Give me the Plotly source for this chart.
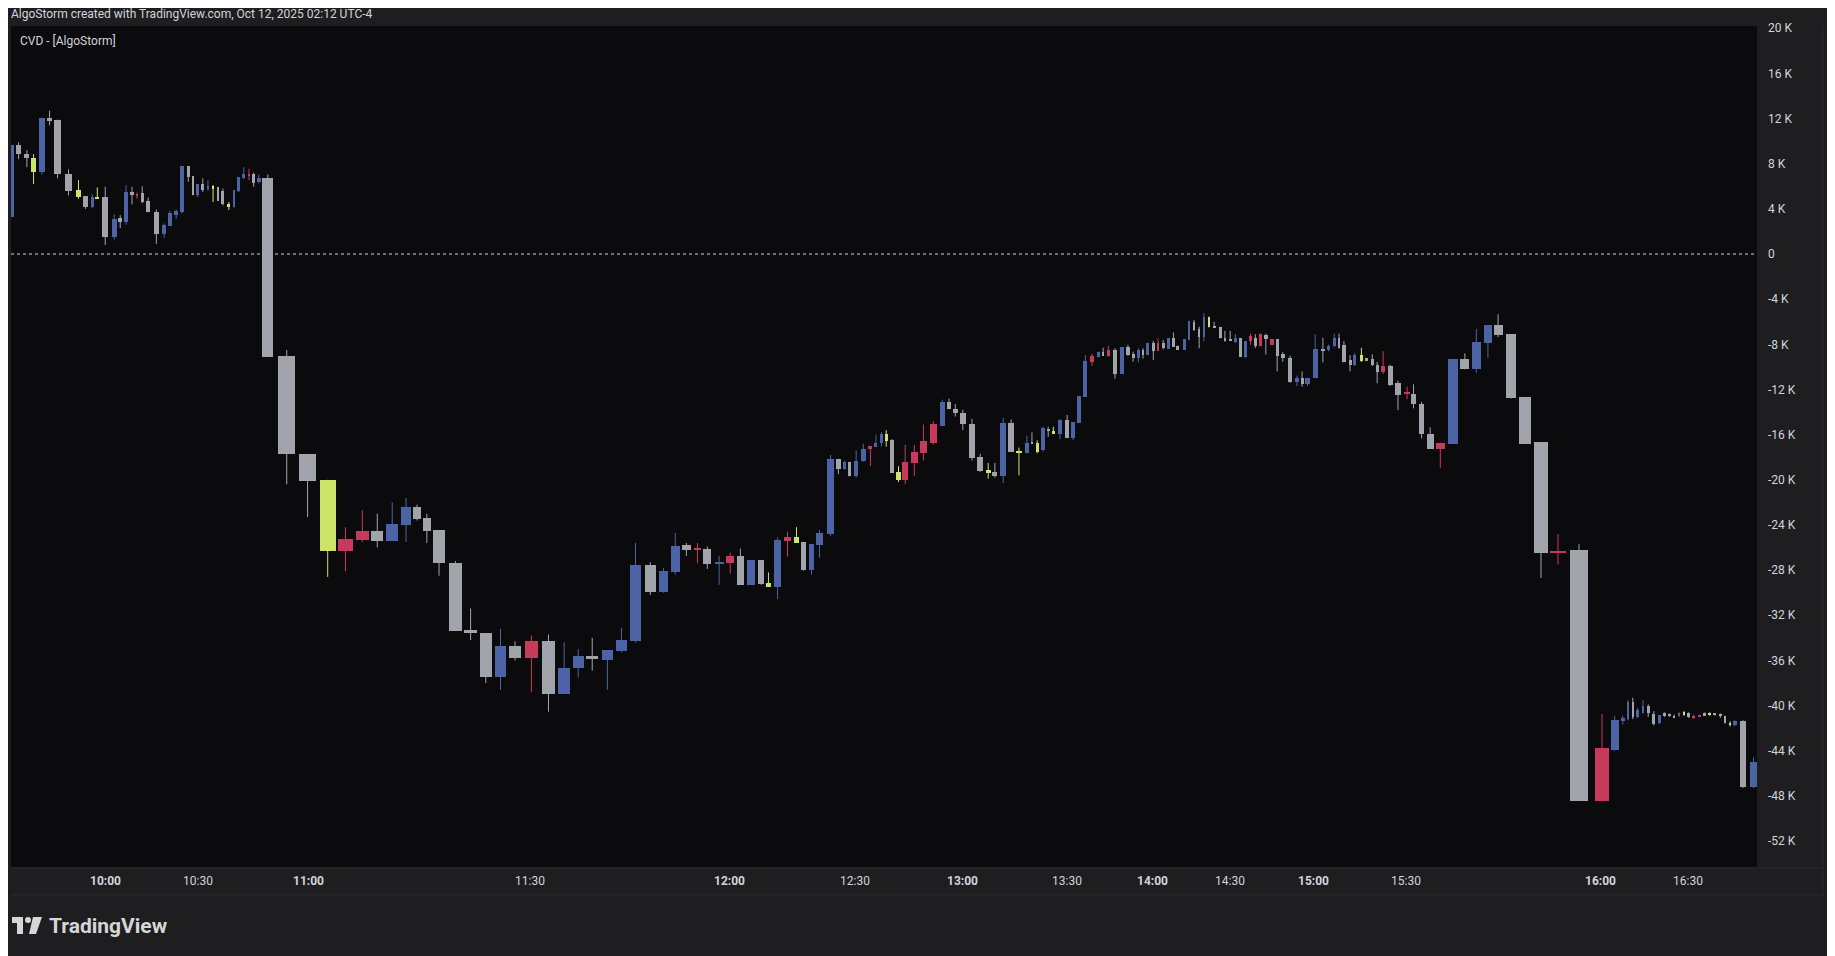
import plotly.graph_objects as go

# Cumulative-volume position of each bar (chart is volume-spaced), and CVD OHLC in thousands
pos = [9.4,15.5,22.6,28.3,35.4,42,48.8,58.2,66.7,72.7,78.5,82.8,89.6,97.3,102.4,107.4,112.5,116.8,121.2,126.3,
       133.3,140,144.8,150.2,155.2,160.6,164.6,168.7,173,177.4,181.8,185.9,190.2,195.3,199.7,203.7,208,212.5,216.5,220.9,
       228.6,244.8,262.6,279.8,295,309.4,322.2,335,346.8,356.2,364.6,375,389,402,415,427.6,440,454,468.6,482,
       494,506,519,531,543,555.7,566.9,577,586.5,596,604.4,614.5,624,632.7,641.8,650.6,656.7,664.5,673,680.7,
       686.5,693.5,700.3,709.8,716.5,721.9,726,731.7,737.8,743.9,748.6,753.3,757.4,762.5,767.9,773.6,781.4,789.2,797.6,805.4,
       811.1,816.5,822.9,830.7,837.8,844.6,850.3,857.4,864.2,870.9,877.7,882,886.5,891.5,895.9,900.3,906,912.1,917.2,922.3,
       927.7,933.4,938.8,942.9,947.3,953,959.1,964.1,968.5,973,977,981,985.8,989.8,994.2,998.6,1003,1006.7,1012.1,1016.2,
       1020.6,1025,1029,1033.4,1037.8,1042.9,1047,1051.5,1056,1060.2,1064.4,1068.9,1073,1077.2,1082,1087.2,1091.7,1096.5,1102.8,1108.6,
       1113,1117.6,1124.2,1130.8,1135.6,1140.5,1144.6,1148.8,1154,1158.1,1163.7,1168.2,1173,1177.2,1182.3,1188.2,1195,1202.8,1208.3,1215.2,
       1222.5,1231.2,1242.2,1252.2,1262,1271.9,1280.6,1291.7,1303.5,1317.3,1331.8,1349.8,1369.5,1380.3,1387.2,1391.7,1395.8,1400,1404.5,1409,
       1413.8,1418.3,1422.8,1427,1431.2,1435.3,1439.5,1443.6,1448,1452.6,1457.4,1461.6,1466,1470.6,1474.7,1479,1483,1490,1499]
top = [9.65,9.65,8.9,8.55,12.07,12.07,11.87,7.1,5.67,5.1,5.08,5.05,5.05,3.1,3.16,5.5,5.5,5.3,5.37,4.7,
       3.7,2.57,3.66,3.8,7.8,7.8,6.9,6.2,6.2,6.0,6.0,5.9,5.6,4.45,5.7,6.8,7.05,7.05,7.08,6.75,
       6.7,-9.05,-17.7,-20.0,-25.25,-24.5,-24.5,-23.9,-22.4,-22.4,-23.4,-24.45,-27.37,-33.3,-33.6,-34.7,-34.7,-34.3,-34.3,-36.67,
       -35.6,-35.6,-35.1,-34.2,-27.55,-27.55,-28.1,-25.86,-25.8,-26.1,-26.1,-27.3,-26.75,-26.75,-27.1,-27.1,-29.1,-25.3,-25.1,-25.1,
       -25.5,-25.7,-24.7,-18.15,-18.15,-18.4,-18.4,-18.3,-17.27,-17.0,-16.7,-15.9,-15.94,-16.5,-19.3,-18.4,-17.5,-16.56,-15.1,-13.08,
       -13.1,-13.7,-14.1,-15.05,-17.95,-19.1,-19.3,-15.0,-15.0,-17.45,-16.7,-16.65,-16.7,-15.4,-15.5,-15.65,-14.7,-14.7,-14.9,-12.57,
       -9.47,-9.03,-8.7,-8.65,-8.5,-8.5,-8.26,-8.26,-8.85,-8.5,-8.5,-7.85,-7.85,-7.85,-7.85,-7.47,-7.47,-8.15,-7.55,-5.93,
       -6.0,-6.6,-5.55,-5.55,-6.37,-6.44,-7.48,-7.57,-7.42,-7.48,-7.72,-7.27,-7.42,-7.1,-7.17,-7.57,-7.57,-8.88,-9.25,-11.02,
       -11.02,-10.99,-8.4,-8.4,-8.18,-7.42,-7.42,-8.03,-9.4,-8.94,-8.94,-9.25,-9.31,-9.8,-9.92,-9.92,-11.45,-12.24,-12.36,-13.28,
       -15.9,-16.7,-9.34,-9.34,-7.8,-6.3,-6.3,-7.11,-12.67,-16.66,-26.28,-26.25,-43.8,-41.3,-41.1,-39.7,-39.7,-40.4,-40.0,-40.0,
       -40.74,-40.84,-40.7,-40.8,-40.9,-40.7,-40.6,-40.7,-40.9,-40.84,-40.7,-40.7,-40.74,-40.74,-40.96,-41.5,-41.4,-41.4,-45.0]
bot = [3.3,8.85,8.5,7.3,7.3,11.8,7.08,5.6,5.08,4.2,4.2,4.99,1.53,1.5,2.8,2.85,5.25,5.2,4.6,3.7,
       1.77,1.77,2.5,3.5,3.7,6.85,5.25,5.2,5.67,5.8,5.8,4.7,4.4,4.16,4.2,5.6,6.75,7.0,6.3,6.35,
       -9.1,-17.7,-20.1,-26.3,-26.3,-25.3,-25.4,-25.4,-24.0,-23.5,-24.5,-27.4,-33.36,-33.6,-37.44,-37.44,-35.8,-35.8,-38.95,-38.97,
       -36.7,-35.9,-36.0,-35.2,-34.3,-29.9,-29.9,-28.2,-26.2,-26.15,-27.5,-27.5,-27.35,-29.3,-29.3,-29.2,-29.5,-29.5,-25.4,-25.57,
       -28.0,-28.0,-25.8,-24.8,-19.04,-19.0,-19.7,-19.7,-18.3,-17.3,-17.06,-16.7,-16.6,-19.4,-20.0,-20.0,-18.5,-17.6,-16.7,-15.2,
       -13.7,-14.1,-15.1,-18.04,-19.2,-19.4,-19.7,-19.7,-17.5,-17.6,-17.6,-16.75,-17.56,-17.4,-15.7,-15.9,-15.94,-16.3,-16.3,-14.94,
       -12.63,-9.53,-9.1,-9.03,-9.03,-10.6,-10.6,-8.94,-9.24,-9.18,-8.94,-8.94,-8.56,-8.56,-8.35,-8.38,-8.2,-8.5,-8.5,-7.6,
       -6.73,-7.38,-7.38,-6.43,-6.52,-7.48,-7.72,-7.66,-7.78,-9.1,-9.1,-7.72,-8.18,-8.18,-7.57,-8.03,-9.0,-9.25,-11.3,-11.33,
       -11.54,-11.54,-11.0,-8.5,-8.5,-8.18,-8.33,-9.55,-9.8,-9.8,-9.49,-9.4,-9.86,-10.41,-10.47,-11.57,-12.45,-12.36,-13.28,-15.96,
       -17.24,-17.24,-16.79,-10.16,-10.2,-7.9,-7.2,-12.76,-16.79,-26.5,-26.4,-48.46,-48.46,-43.9,-41.4,-41.2,-41.0,-41.0,-40.7,-40.7,
       -41.6,-41.54,-40.9,-40.9,-41.0,-40.9,-40.8,-41.05,-41.1,-40.9,-40.84,-40.8,-40.8,-40.96,-41.5,-41.76,-41.76,-47.24,-47.24]
hi = [9.65,9.9,9.2,8.85,12.07,12.7,11.9,7.5,6.55,5.1,5.3,5.9,5.96,3.5,3.45,6.1,5.96,5.45,6.0,5.0,
      3.95,2.7,3.8,3.95,7.8,7.8,6.9,6.2,6.7,6.55,6.1,5.96,5.8,4.6,5.7,6.8,7.7,7.55,7.2,7.05,
      7.05,-8.5,-17.7,-20.0,-24.2,-22.7,-23.0,-22.0,-21.6,-22.2,-23.0,-24.45,-27.2,-31.4,-33.6,-33.2,-34.3,-33.8,-33.7,-34.4,
      -35.0,-34.0,-35.1,-33.1,-25.6,-27.3,-27.8,-24.7,-25.6,-25.6,-25.9,-26.75,-26.45,-26.1,-27.1,-27.1,-28.2,-25.1,-24.6,-24.2,
      -25.5,-25.7,-24.45,-17.8,-18.15,-18.3,-18.4,-17.4,-16.8,-17.0,-16.0,-15.8,-15.6,-16.4,-18.8,-16.9,-16.9,-15.1,-14.8,-12.9,
      -12.8,-13.3,-13.8,-14.6,-17.7,-18.5,-18.5,-14.5,-14.65,-17.15,-16.1,-15.8,-16.5,-15.3,-15.3,-15.3,-14.65,-14.25,-14.9,-12.57,
      -8.97,-8.85,-8.65,-8.3,-8.15,-8.35,-8.26,-8.05,-8.65,-8.35,-8.35,-7.85,-7.7,-7.47,-7.6,-7.47,-6.94,-8.1,-7.55,-5.93,
      -5.84,-6.43,-5.25,-5.55,-6.0,-6.44,-6.8,-6.8,-7.1,-7.48,-7.72,-7.05,-7.1,-7.05,-7.05,-7.57,-7.57,-8.7,-9.0,-10.78,
      -10.4,-10.99,-7.1,-7.42,-8.03,-7.05,-7.05,-7.72,-8.94,-8.79,-8.3,-9.25,-8.88,-9.55,-8.6,-9.8,-11.23,-11.75,-11.54,-13.1,
      -15.35,-16.7,-9.34,-8.79,-6.65,-6.3,-5.34,-7.11,-12.67,-16.66,-24.8,-25.7,-40.74,-40.9,-40.9,-39.5,-39.3,-40.2,-39.5,-39.9,
      -40.5,-40.84,-40.6,-40.7,-40.8,-40.6,-40.5,-40.6,-40.8,-40.8,-40.6,-40.6,-40.7,-40.7,-40.9,-41.4,-41.3,-41.3,-44.6]
lo = [3.3,8.4,7.7,6.2,7.05,11.4,6.7,5.2,4.9,4.0,4.1,4.99,0.8,1.3,2.3,2.6,4.4,4.9,4.5,3.7,
      0.9,1.45,2.5,3.1,3.6,6.4,5.2,5.05,5.5,5.6,4.6,4.7,4.3,3.9,4.1,5.5,6.65,6.55,5.96,6.25,
      -9.1,-20.4,-23.3,-28.6,-28.1,-25.5,-26.0,-25.4,-25.5,-23.6,-25.6,-28.5,-33.36,-34.2,-38.0,-38.6,-36.0,-38.8,-40.54,-38.97,
      -37.5,-36.9,-38.6,-35.3,-34.4,-30.2,-30.0,-28.4,-26.75,-27.4,-27.9,-29.3,-28.3,-29.3,-29.3,-29.3,-29.5,-30.55,-26.8,-25.6,
      -28.05,-28.4,-26.9,-25.0,-19.5,-19.1,-19.7,-19.8,-18.4,-18.8,-17.06,-17.06,-17.06,-19.4,-20.2,-20.4,-19.66,-18.3,-16.9,-15.2,
      -13.75,-14.4,-15.6,-18.3,-19.3,-19.9,-19.8,-20.3,-17.5,-19.6,-17.65,-16.75,-17.65,-17.5,-16.2,-15.95,-16.4,-16.3,-16.5,-14.94,
      -12.63,-9.9,-9.15,-9.03,-9.1,-11.05,-10.6,-9.03,-9.53,-9.6,-9.27,-8.94,-9.4,-8.56,-8.45,-8.38,-8.2,-8.5,-8.5,-7.6,
      -6.8,-8.35,-7.76,-6.5,-6.52,-7.48,-7.78,-7.72,-7.87,-9.1,-9.2,-8.03,-8.33,-8.18,-8.9,-8.03,-10.4,-9.55,-11.4,-11.7,
      -11.75,-11.69,-11.0,-9.6,-8.6,-8.27,-8.39,-9.6,-10.4,-9.92,-9.55,-9.4,-9.92,-11.45,-10.62,-11.69,-13.83,-12.85,-13.67,-16.33,
      -17.24,-18.95,-16.79,-10.22,-10.53,-9.2,-7.36,-12.8,-16.79,-28.7,-27.5,-48.46,-48.46,-44.0,-41.7,-41.3,-41.2,-41.1,-40.7,-41.0,
      -41.76,-41.66,-41.0,-41.0,-41.1,-41.0,-40.9,-41.1,-41.2,-41.0,-40.9,-40.9,-40.9,-41.1,-41.6,-41.85,-41.85,-47.3,-47.3]
col = list("BGGLBGGGLGBLGBGBGRGG" "GBBBBGGBGBLGGLBBBRGB" "GGGLRRGBBGGGGGGBGRGB" "BGBBBGBBGRGBRGBGLBRL"
           "GBBBGBGBBRBBLGLRRRRB" "GGGGGLGBGLBGLBGLBGBB" "BRBGRGBGGBGBGRGBGGBB" "GGBLGGGGBGBRGRGRGGGB"
           "GBBGBBGGGBLGGGRGGRGG" "GRBGBBGGGGRGRBBBGBBG" "GBGGGBLGRRGLGGGLBGB")

color_map = {"B": "#4c64a6", "G": "#a2a4ab", "L": "#cde36a", "R": "#c73a5c"}

tick_lab = ["10:00", "10:30", "11:00", "11:30", "12:00", "12:30", "13:00", "13:30", "14:00", "14:30", "15:00", "15:30", "16:00", "16:30"]
tick_pos = [90, 169, 263, 453, 623, 731, 823, 912, 985, 1051, 1123, 1202, 1368, 1443]
bold_labels = {"10:00", "11:00", "12:00", "13:00", "14:00", "15:00", "16:00"}
y_ticks = list(range(-52, 21, 4))

OFF = 8  # page body offset
W, H = 1835 - OFF, 956 - OFF
L, R, T, B = 11, 1757, 26, 867  # page coords of plot area

n = len(pos)
widths = []
for i in range(n):
    gp = pos[i] - pos[i - 1] if i > 0 else pos[1] - pos[0]
    gn = pos[i + 1] - pos[i] if i < n - 1 else gp
    widths.append(max(1.3, 0.95 * (gp + gn) / 2 - 1.8))
heights = [max(t - b, 0.13) for t, b in zip(top, bot)]
bases = [b if t - b >= 0.13 else (t + b) / 2 - 0.065 for t, b in zip(top, bot)]

fig = go.Figure()
fig.add_shape(type="line", xref="paper", yref="y", x0=0, x1=1, y0=0, y1=0,
              line=dict(color="#d8d8d8", width=1, dash="dot"), layer="below")
for c, cc in color_map.items():
    xs, ys = [], []
    for i in range(n):
        if col[i] == c:
            xs += [pos[i], pos[i], None]
            ys += [hi[i], lo[i], None]
    fig.add_trace(go.Scatter(x=xs, y=ys, mode="lines", line=dict(color=cc, width=1),
                             hoverinfo="skip", showlegend=False))
fig.add_trace(go.Bar(x=pos, y=heights, base=bases, width=widths,
                     marker=dict(color=[color_map[c] for c in col], line=dict(width=0)),
                     hoverinfo="skip", showlegend=False))

def px(x):
    return (x - L) / (R - L)
def py(y):
    return (B - y) / (B - T)

logo = "#d6d6d6"
shapes = [
    dict(type="rect", xref="paper", yref="paper", x0=px(11), x1=px(1823), y0=py(895), y1=py(26),
         fillcolor="#0b0b0d", line=dict(width=0), layer="below"),
    dict(type="line", xref="paper", yref="paper", x0=px(11), x1=px(1823), y0=py(868), y1=py(868),
         line=dict(color="#2a2b2f", width=1)),
    dict(type="line", xref="paper", yref="paper", x0=px(11), x1=px(1823), y0=py(895), y1=py(895),
         line=dict(color="#2a2b2f", width=1)),
    dict(type="line", xref="paper", yref="paper", x0=px(1823), x1=px(1823), y0=py(895), y1=py(26),
         line=dict(color="#2a2b2f", width=1)),
    dict(type="rect", xref="paper", yref="paper", x0=px(12), x1=px(23), y0=py(923), y1=py(917),
         fillcolor=logo, line=dict(width=0)),
    dict(type="rect", xref="paper", yref="paper", x0=px(17), x1=px(23), y0=py(934), y1=py(917),
         fillcolor=logo, line=dict(width=0)),
    dict(type="circle", xref="paper", yref="paper", x0=px(25), x1=px(31), y0=py(923), y1=py(917),
         fillcolor=logo, line=dict(width=0)),
    dict(type="path", xref="paper", yref="paper",
         path=f"M {px(33)} {py(917)} L {px(42)} {py(917)} L {px(36)} {py(934)} L {px(29)} {py(934)} Z",
         fillcolor=logo, line=dict(width=0)),
]

annotations = [
    dict(text="AlgoStorm created with TradingView.com, Oct 12, 2025 02:12 UTC-4", xref="paper", yref="paper",
         x=px(9), y=py(14), xanchor="left", yanchor="middle", showarrow=False,
         font=dict(family="Roboto", size=12, color="#d1d4dc")),
    dict(text="CVD - [AlgoStorm]", xref="paper", yref="paper", x=px(18), y=py(41),
         xanchor="left", yanchor="middle", showarrow=False,
         font=dict(family="Roboto", size=12, color="#d1d4dc")),
    dict(text="<b>TradingView</b>", xref="paper", yref="paper", x=px(47), y=py(926),
         xanchor="left", yanchor="middle", showarrow=False,
         font=dict(family="Roboto", size=21, color=logo)),
]
for lab, xp in zip(tick_lab, tick_pos):
    annotations.append(dict(text=f"<b>{lab}</b>" if lab in bold_labels else lab, xref="x", yref="paper",
                            x=xp, y=py(881), xanchor="center", yanchor="middle", showarrow=False,
                            font=dict(family="Roboto", size=12, color="#d1d4dc")))

fig.update_layout(
    width=W, height=H, margin=dict(l=L - OFF, r=1835 - R, t=T - OFF, b=956 - B),
    paper_bgcolor="#1e1e20", plot_bgcolor="#0b0b0d", barmode="overlay", bargap=0,
    shapes=shapes, annotations=annotations, hovermode=False,
    xaxis=dict(range=[9, 1502], showgrid=False, zeroline=False, showticklabels=False, fixedrange=True),
    yaxis=dict(range=[-54.3, 20.2], side="right", showgrid=False, zeroline=False,
               tickvals=y_ticks, ticktext=[("0" if v == 0 else f"{v} K") for v in y_ticks],
               ticks="", ticklabelstandoff=10,
               tickfont=dict(family="Roboto", size=12, color="#d1d4dc"), fixedrange=True),
)
fig.write_html("out.html", config={"displayModeBar": False})
